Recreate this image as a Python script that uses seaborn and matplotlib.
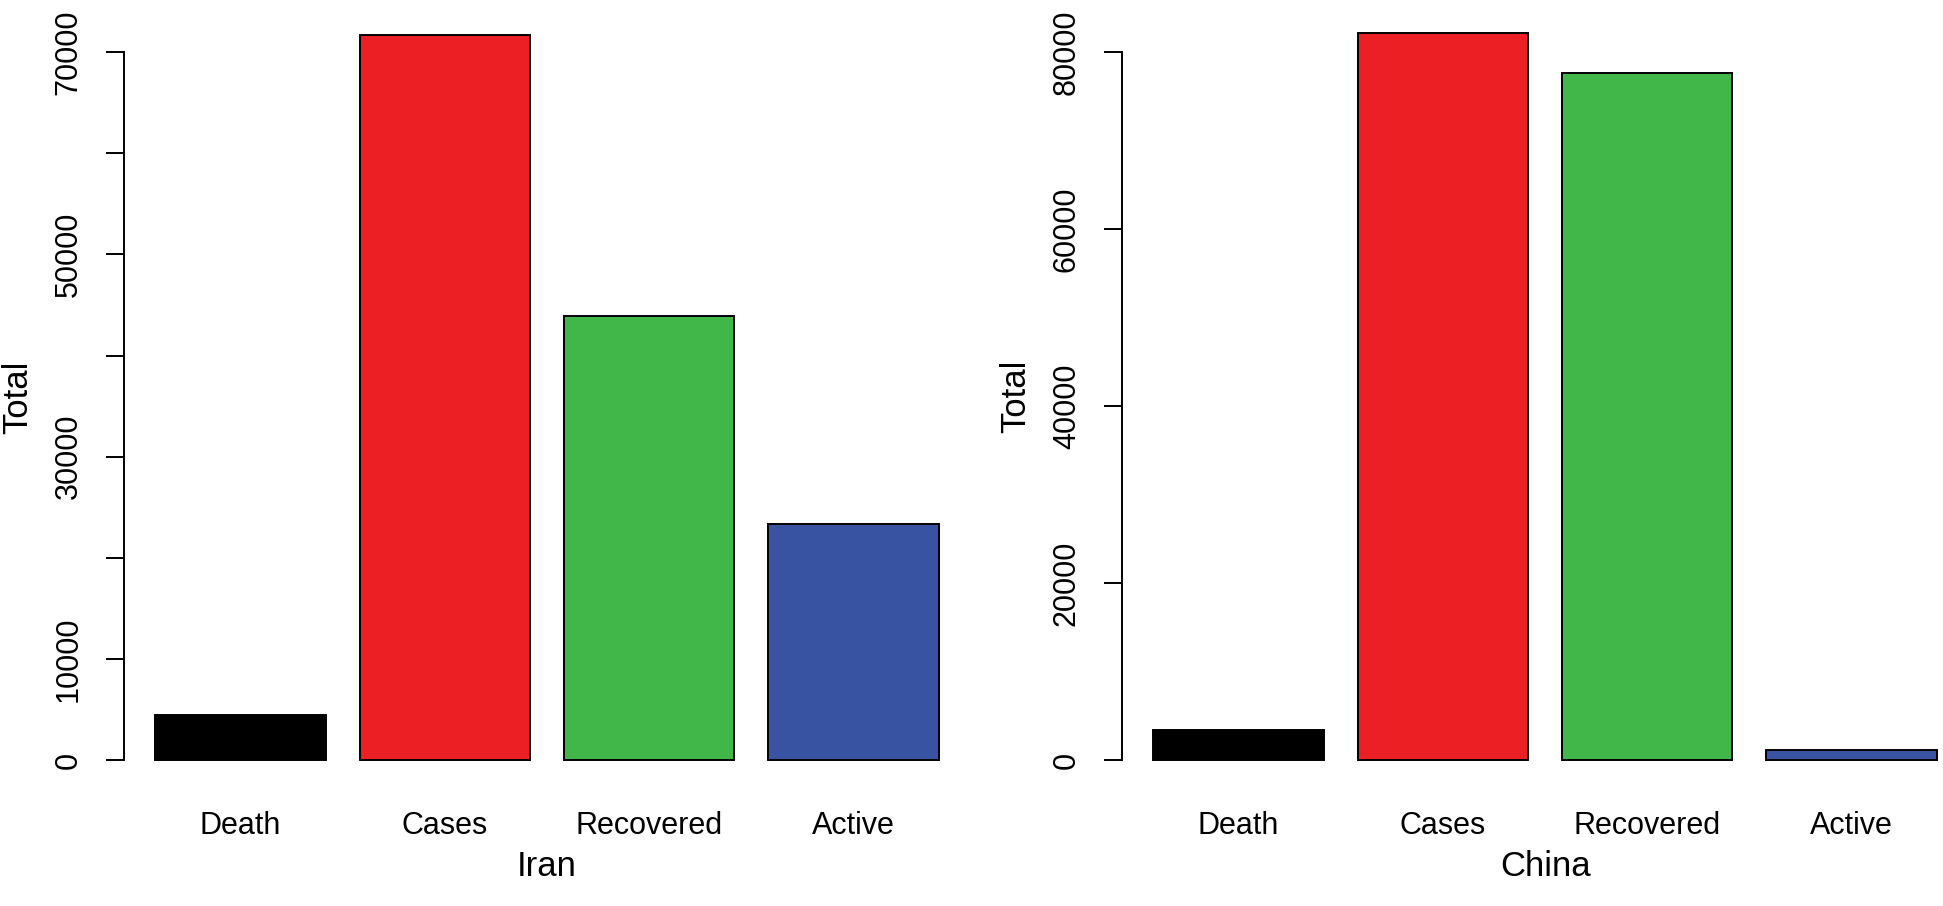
import matplotlib
matplotlib.use("Agg")

import matplotlib.pyplot as plt
import seaborn as sns

# Data
categories = ["Death", "Cases", "Recovered", "Active"]
iran_values = [4474, 71686, 43894, 23318]
china_values = [3341, 82160, 77663, 1156]
bar_colors = ["#000000", "#EC1F25", "#41B649", "#3953A3"]

iran_ticks = [0, 10000, 20000, 30000, 40000, 50000, 60000, 70000]
iran_ticklabels = ["0", "10000", "", "30000", "", "50000", "", "70000"]
china_ticks = [0, 20000, 40000, 60000, 80000]
china_ticklabels = ["0", "20000", "40000", "60000", "80000"]

sns.set_style("white")
plt.rcParams["font.family"] = ["Liberation Sans", "DejaVu Sans"]
plt.rcParams["text.color"] = "black"
plt.rcParams["axes.labelcolor"] = "black"
plt.rcParams["xtick.color"] = "black"
plt.rcParams["ytick.color"] = "black"

fig = plt.figure(figsize=(19.43, 9.06), dpi=100)

# R-style panels; the right one runs off the edge like in the original
ax1 = fig.add_axes([0.0638, 0.1291, 0.4354, 0.8642])
ax2 = fig.add_axes([0.5775, 0.1291, 0.4354, 0.8664])


def r_barplot(ax, values, country, ticks, ticklabels):
    sns.barplot(x=categories, y=values, hue=categories, palette=bar_colors,
                legend=False, saturation=1, width=1 / 1.2,
                edgecolor="black", linewidth=1.4, ax=ax)
    top = max(values)
    ax.set_ylim(-0.04 * top, 1.04 * top)
    ax.set_xlim(-0.5 / 1.2 - 0.04 * 3.8333, 3 + 0.5 / 1.2 + 0.04 * 3.8333)

    for side in ["top", "right", "bottom"]:
        ax.spines[side].set_visible(False)
    ax.spines["left"].set_bounds(ticks[0], ticks[-1])
    ax.spines["left"].set_linewidth(1.4)
    ax.spines["left"].set_color("black")

    ax.set_yticks(ticks)
    ax.set_yticklabels(ticklabels, rotation=90, va="center")
    ax.tick_params(axis="y", length=13, width=1.4, pad=16, labelsize=22,
                   left=True, color="black")
    ax.tick_params(axis="x", length=0, pad=16, labelsize=22)

    ax.set_xlabel(country, fontsize=25, labelpad=6)
    ax.set_ylabel("Total", fontsize=25, labelpad=14)
    ax.set_facecolor("white")


r_barplot(ax1, iran_values, "Iran", iran_ticks, iran_ticklabels)
r_barplot(ax2, china_values, "China", china_ticks, china_ticklabels)

fig.savefig("out.png", dpi=100, facecolor="white")
